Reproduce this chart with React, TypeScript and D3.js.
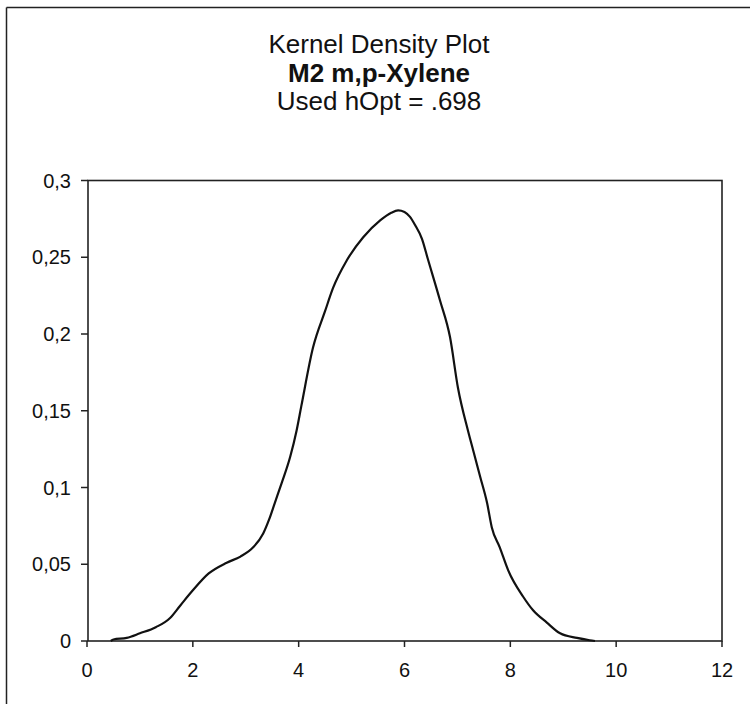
import React from "react";
import * as d3 from "d3";

// Kernel density estimate, sampled along x
const densityX = [0.45, 0.5, 0.75, 1.0, 1.3, 1.57, 1.76, 2.0, 2.3, 2.64, 2.9, 3.14, 3.33, 3.44, 3.55, 3.68, 3.84, 3.96, 4.05, 4.27, 4.5, 4.65, 4.91, 5.22, 5.54, 5.75, 5.88, 6.0, 6.1, 6.2, 6.33, 6.44, 6.67, 6.86, 7.01, 7.2, 7.3, 7.43, 7.56, 7.65, 7.8, 7.96, 8.24, 8.43, 8.69, 8.94, 9.26, 9.5, 9.6];
const densityY = [0, 0.001, 0.002, 0.005, 0.009, 0.015, 0.023, 0.033, 0.044, 0.051, 0.055, 0.061, 0.07, 0.079, 0.09, 0.103, 0.12, 0.137, 0.153, 0.191, 0.215, 0.23, 0.248, 0.263, 0.274, 0.279, 0.2805, 0.2795, 0.2765, 0.271, 0.262, 0.249, 0.222, 0.198, 0.165, 0.137, 0.124, 0.107, 0.09, 0.074, 0.061, 0.046, 0.029, 0.02, 0.012, 0.005, 0.002, 0.0005, 0];

const xTicks = [0, 2, 4, 6, 8, 10, 12];
const yTicks = [0, 0.05, 0.1, 0.15, 0.2, 0.25, 0.3];
const yTickLabels = ["0", "0,05", "0,1", "0,15", "0,2", "0,25", "0,3"];

const titleLines = ["Kernel Density Plot", "M2 m,p-Xylene", "Used hOpt = .698"];

const W = 750;
const H = 704;
const plot = { left: 88, right: 722, top: 180.5, bottom: 641 };
const font = "'Liberation Sans', Arial, sans-serif";

export default function App() {
  const x = d3.scaleLinear().domain([0, 12]).range([plot.left - 1, plot.right]);
  const y = d3.scaleLinear().domain([0, 0.3]).range([plot.bottom, plot.top]);

  const points = densityX.map((v, i) => [v, densityY[i]] as [number, number]);
  const line = d3
    .line<[number, number]>()
    .x((d) => x(d[0]))
    .y((d) => y(d[1]))
    .curve(d3.curveMonotoneX);

  return (
    <svg
      width={W}
      height={H}
      style={{ position: "absolute", left: 0, top: 0, background: "#fff" }}
      fontFamily={font}
    >
      <rect x={0} y={0} width={W} height={H} fill="#fff" />
      {/* outer chart frame (left and top edges fall inside the page) */}
      <line x1={6.5} y1={7.5} x2={W} y2={7.5} stroke="#222" strokeWidth={1.5} />
      <line x1={6.5} y1={7.5} x2={6.5} y2={H} stroke="#222" strokeWidth={1.5} />

      {/* titles */}
      <text x={379} y={53} textAnchor="middle" fontSize={26} fill="#111">
        {titleLines[0]}
      </text>
      <text x={379} y={82} textAnchor="middle" fontSize={26} fontWeight="bold" fill="#111">
        {titleLines[1]}
      </text>
      <text x={379} y={110} textAnchor="middle" fontSize={26} fill="#111">
        {titleLines[2]}
      </text>

      {/* plot area box */}
      <rect
        x={plot.left}
        y={plot.top}
        width={plot.right - plot.left}
        height={plot.bottom - plot.top}
        fill="none"
        stroke="#222"
        strokeWidth={1.6}
      />

      {/* y axis ticks and labels */}
      {yTicks.map((t, i) => (
        <g key={"y" + i}>
          <line x1={plot.left - 7} x2={plot.left} y1={y(t)} y2={y(t)} stroke="#222" strokeWidth={1.5} />
          <text x={71} y={y(t) + 7} textAnchor="end" fontSize={20} fill="#111">
            {yTickLabels[i]}
          </text>
        </g>
      ))}

      {/* x axis ticks and labels */}
      {xTicks.map((t, i) => (
        <g key={"x" + i}>
          <line x1={x(t)} x2={x(t)} y1={plot.bottom} y2={plot.bottom + 6} stroke="#222" strokeWidth={1.5} />
          <text x={x(t)} y={677} textAnchor="middle" fontSize={20} fill="#111">
            {t}
          </text>
        </g>
      ))}

      {/* density curve */}
      <path d={line(points) ?? ""} fill="none" stroke="#111" strokeWidth={2.2} strokeLinejoin="round" />
    </svg>
  );
}
